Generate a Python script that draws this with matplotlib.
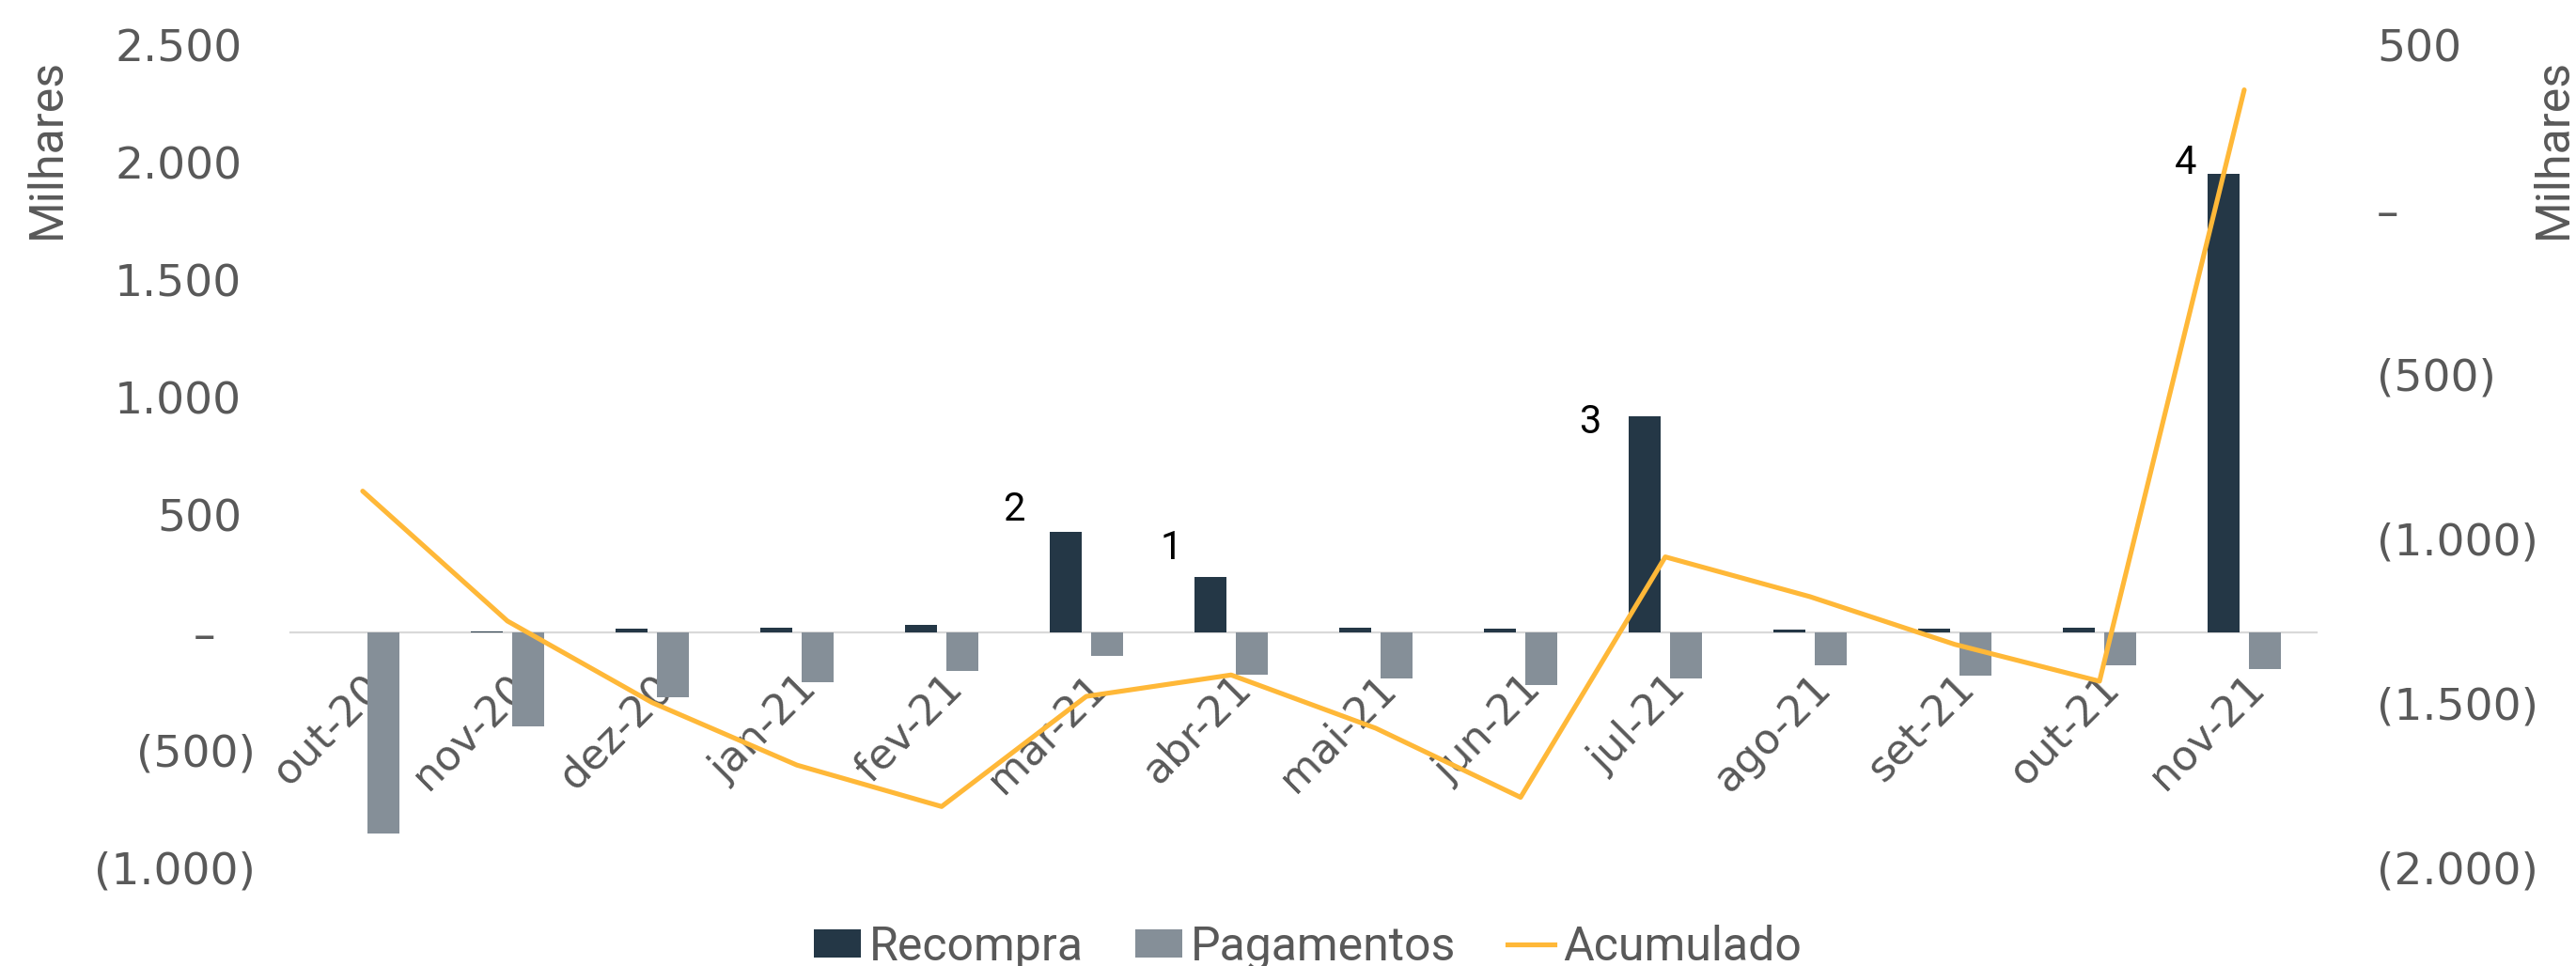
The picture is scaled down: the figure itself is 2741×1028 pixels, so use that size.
from __future__ import annotations

import matplotlib

matplotlib.use("Agg")
import matplotlib.pyplot as plt
import numpy as np
from matplotlib.lines import Line2D
from matplotlib.patches import Patch
from matplotlib.ticker import FixedLocator, FuncFormatter
from matplotlib.transforms import ScaledTranslation

months = ["out-20", "nov-20", "dez-20", "jan-21", "fev-21", "mar-21", "abr-21",
          "mai-21", "jun-21", "jul-21", "ago-21", "set-21", "out-21", "nov-21"]
recompra = [0, 3, 16, 21, 33, 428, 236, 21, 15, 920, 12, 17, 22, 1952]
pagamentos = [-856, -400, -277, -213, -163, -100, -181, -195, -224, -197, -140, -182, -141, -156]
acumulado = [-856, -1251, -1499, -1689, -1815, -1480, -1415, -1577, -1787, -1056, -1177, -1322, -1434, 364]

# numbered notes over some of the buy-back bars
note_months = ["mar-21", "abr-21", "jul-21", "nov-21"]
note_labels = ["2", "1", "3", "4"]

left_ticks = [-1000, -500, 0, 500, 1000, 1500, 2000, 2500]
right_ticks = [-2000, -1500, -1000, -500, 0, 500]

DARK = "#243746"
GREY = "#858f98"
GOLD = "#ffb838"
TEXT = "#595959"


def fmt_thousands(v: float) -> str:
    if abs(v) < 1e-9:
        return "–"
    s = f"{abs(v):,.0f}".replace(",", ".")
    return f"({s})" if v < 0 else s


def main() -> int:
    fig = plt.figure(figsize=(27.41, 10.28), dpi=100)
    ax = fig.add_axes([0.1127, 0.1021, 0.8993 - 0.1127, 0.9533 - 0.1021])
    ax2 = ax.twinx()

    x = np.arange(len(months))
    width = 0.22
    off = 0.143
    ax.bar(x - off, recompra, width, color=DARK, zorder=2)
    ax.bar(x + off, pagamentos, width, color=GREY, zorder=2)

    ax.set_xlim(-0.5, len(months) - 0.5)
    ax.set_ylim(-1000, 2500)
    ax.yaxis.set_major_locator(FixedLocator(left_ticks))
    ax.yaxis.set_major_formatter(FuncFormatter(lambda v, _: fmt_thousands(v)))

    for side in ("top", "right", "left"):
        ax.spines[side].set_visible(False)
    ax.spines["bottom"].set_position(("data", 0))
    ax.spines["bottom"].set_color("#d9d9d9")
    ax.spines["bottom"].set_linewidth(1.6)
    ax.spines["bottom"].set_zorder(1)

    ax.set_xticks(x)
    ax.set_xticklabels(months, rotation=45, ha="right", va="top", rotation_mode="anchor")
    ax.tick_params(axis="x", length=0, pad=27, labelsize=32, labelcolor=TEXT)
    ax.tick_params(axis="y", length=0, pad=27, labelsize=34, labelcolor=TEXT)

    ax2.plot(x, acumulado, color=GOLD, lw=3.7, solid_capstyle="round", zorder=3)
    ax2.set_ylim(-2000, 500)
    ax2.yaxis.set_major_locator(FixedLocator(right_ticks))
    ax2.yaxis.set_major_formatter(FuncFormatter(lambda v, _: fmt_thousands(v)))
    for side in ("top", "right", "left", "bottom"):
        ax2.spines[side].set_visible(False)
    ax2.tick_params(axis="y", length=0, pad=46, labelsize=34, labelcolor=TEXT)

    label_font = dict(family=["Roboto", "DejaVu Sans"], fontsize=36, color=TEXT)
    ax.set_ylabel("Milhares", loc="top", **label_font)
    ax.yaxis.set_label_coords(-0.12, 0.984)
    ax.yaxis.label.set_va("center")
    ax2.set_ylabel("Milhares", loc="top", **label_font)
    ax2.yaxis.set_label_coords(1.117, 0.984)
    ax2.yaxis.label.set_va("center")

    note_offsets = [(-40, 17), (-30, 22), (-42, -5), (-29, 8)]
    for m, lab, (dx, dy) in zip(note_months, note_labels, note_offsets):
        i = months.index(m)
        ax.annotate(lab, xy=(i - off, recompra[i]), xytext=(dx, dy), textcoords="offset points",
                    ha="center", va="center", fontsize=30, color="black",
                    family=["Roboto", "DejaVu Sans"])

    # accounting style: digits line up, ")" hangs out on negatives
    for tick_val, lab in zip(left_ticks, ax.get_yticklabels()):
        if tick_val > 0:
            shift = 0.14
        elif tick_val == 0:
            shift = 0.42
        else:
            continue
        lab.set_transform(lab.get_transform() + ScaledTranslation(-shift, 0, fig.dpi_scale_trans))

    handles = [
        Patch(facecolor=DARK, label="Recompra"),
        Patch(facecolor=GREY, label="Pagamentos"),
        Line2D([0], [0], color=GOLD, lw=3.7, label="Acumulado"),
    ]
    leg = fig.legend(handles=handles, loc="center", bbox_to_anchor=(0.5076, 0.0195), ncol=3,
                     frameon=False, handlelength=1.0, handleheight=0.57, handletextpad=0.18,
                     columnspacing=1.1, borderpad=0,
                     prop=dict(family=["Roboto", "DejaVu Sans"], size=36))
    for t in leg.get_texts():
        t.set_color(TEXT)

    fig.savefig("out.png", dpi=100)
    return 0


if __name__ == "__main__":
    raise SystemExit(main())
